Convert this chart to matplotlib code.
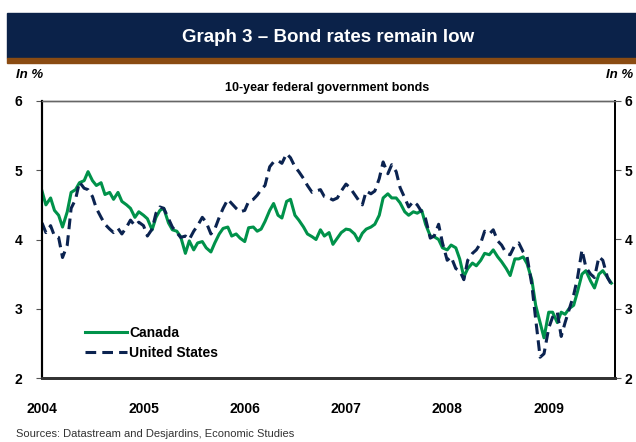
import pandas as pd
import matplotlib
matplotlib.use("Agg")
import matplotlib.pyplot as plt
from matplotlib.patches import Rectangle

plt.rcParams['font.family'] = ['Liberation Sans', 'DejaVu Sans']

# semi-monthly readings, Jan 2004 -> Aug 2009 (in %)
canada = [4.70, 4.50, 4.60, 4.42, 4.35, 4.18, 4.40, 4.68, 4.72, 4.82, 4.85, 4.98,
          4.85, 4.78, 4.82, 4.65, 4.68, 4.58, 4.68, 4.55, 4.50, 4.45, 4.32, 4.40,
          4.35, 4.30, 4.14, 4.32, 4.42, 4.45, 4.24, 4.14, 4.12, 4.04, 3.80, 3.98,
          3.85, 3.95, 3.97, 3.88, 3.82, 3.95, 4.08, 4.16, 4.18, 4.05, 4.08, 4.02,
          3.97, 4.17, 4.18, 4.12, 4.15, 4.26, 4.42, 4.52, 4.35, 4.31, 4.55, 4.58,
          4.35, 4.28, 4.18, 4.08, 4.04, 4.00, 4.14, 4.05, 4.10, 3.93, 4.02, 4.10,
          4.15, 4.14, 4.08, 3.98, 4.09, 4.15, 4.18, 4.22, 4.35, 4.60, 4.66, 4.60,
          4.60, 4.53, 4.40, 4.35, 4.40, 4.38, 4.42, 4.22, 4.05, 4.04, 4.00, 3.88,
          3.85, 3.92, 3.88, 3.72, 3.46, 3.58, 3.66, 3.62, 3.70, 3.80, 3.78, 3.85,
          3.75, 3.68, 3.58, 3.48, 3.72, 3.72, 3.75, 3.65, 3.42, 3.05, 2.80, 2.58,
          2.95, 2.95, 2.80, 2.95, 2.92, 3.00, 3.05, 3.25, 3.50, 3.55, 3.40, 3.30,
          3.50, 3.55, 3.45, 3.37]
united_states = [4.24, 4.10, 4.20, 4.05, 4.03, 3.74, 3.92, 4.45, 4.58, 4.83, 4.74, 4.72,
                 4.62, 4.45, 4.32, 4.22, 4.15, 4.10, 4.16, 4.08, 4.18, 4.28, 4.20, 4.25,
                 4.20, 4.05, 4.15, 4.38, 4.47, 4.45, 4.30, 4.18, 4.10, 4.03, 4.05, 4.00,
                 4.12, 4.20, 4.32, 4.25, 4.08, 4.15, 4.32, 4.45, 4.58, 4.52, 4.45, 4.40,
                 4.42, 4.55, 4.58, 4.64, 4.72, 4.78, 5.05, 5.12, 5.14, 5.10, 5.24, 5.18,
                 5.05, 4.98, 4.88, 4.78, 4.68, 4.70, 4.72, 4.62, 4.60, 4.57, 4.60, 4.70,
                 4.80, 4.75, 4.65, 4.57, 4.50, 4.70, 4.66, 4.70, 4.88, 5.12, 4.95, 5.08,
                 4.98, 4.75, 4.60, 4.47, 4.55, 4.50, 4.40, 4.30, 4.02, 4.05, 4.22, 3.95,
                 3.70, 3.75, 3.58, 3.55, 3.42, 3.70, 3.80, 3.85, 3.95, 4.12, 4.08, 4.14,
                 3.98, 3.92, 3.80, 3.78, 3.92, 3.95, 3.82, 3.75, 3.35, 2.85, 2.30, 2.35,
                 2.72, 2.88, 2.95, 2.60, 2.80, 2.98, 3.20, 3.45, 3.85, 3.60, 3.50, 3.45,
                 3.75, 3.70, 3.45, 3.35]
dates = pd.date_range('2004-01-01', periods=len(canada), freq='SMS')
years = ['2004', '2005', '2006', '2007', '2008', '2009']
yticks = [2, 3, 4, 5, 6]

W, H = 636, 442
def fx(px):
    return px / W
def fy(py):
    return 1 - py / H

fig = plt.figure(figsize=(6.36, 4.42), dpi=100)

# title banner
fig.patches.append(Rectangle((fx(7), fy(58)), 1 - fx(7), 45 / H, transform=fig.transFigure,
                             color='#0b2249', zorder=0))
fig.patches.append(Rectangle((fx(7), fy(63)), 1 - fx(7), 5 / H, transform=fig.transFigure,
                             color='#8a4b12', zorder=0))
fig.text(fx(328), fy(37), 'Graph 3 – Bond rates remain low', color='white',
         fontsize=13.5, fontweight='bold', ha='center', va='center')
fig.text(fx(327), fy(88), '10-year federal government bonds', fontsize=9,
         fontweight='bold', ha='center', va='center')
fig.text(fx(16), fy(75), 'In %', fontsize=9.5, fontweight='bold', style='italic',
         ha='left', va='center')
fig.text(fx(633), fy(75), 'In %', fontsize=9.5, fontweight='bold', style='italic',
         ha='right', va='center')
fig.text(fx(16), fy(434), 'Sources: Datastream and Desjardins, Economic Studies',
         fontsize=8, color='#333333', ha='left', va='center')

ax = fig.add_axes([fx(42), fy(378), (615 - 42) / W, (378 - 101) / H])
ax.plot(dates, canada, color='#00924a', lw=2.2, label='Canada')
ax.plot(dates, united_states, color='#0b2350', lw=2.2, dashes=(3.5, 2),
        label='United States')
ax.set_ylim(2, 6)
ax.set_xlim(pd.Timestamp('2004-01-01'), pd.Timestamp('2009-08-28'))

ax.set_xticks([pd.Timestamp(y + '-01-01') for y in years])
ax.set_xticklabels(years, fontsize=10, fontweight='bold')
ax.tick_params(axis='x', length=0, pad=17)
ax.set_yticks(yticks)
ax.set_yticklabels([str(v) for v in yticks], fontsize=10, fontweight='bold')
ax.tick_params(axis='y', direction='out', length=4, color='#555555', pad=10)

ax2 = ax.twinx()
ax2.set_ylim(2, 6)
ax2.set_yticks(yticks)
ax2.set_yticklabels([str(v) for v in yticks], fontsize=10, fontweight='bold')
ax2.tick_params(axis='y', direction='out', length=4, color='#555555', pad=3)

for a in (ax, ax2):
    a.spines['top'].set_color('#666666')
    a.spines['top'].set_linewidth(1)
    a.spines['left'].set_color('black')
    a.spines['left'].set_linewidth(1.5)
    a.spines['right'].set_color('black')
    a.spines['right'].set_linewidth(1.3)
    a.spines['bottom'].set_color('#333333')
    a.spines['bottom'].set_linewidth(2)

leg = ax.legend(loc='upper left', bbox_to_anchor=((85 - 42) / 573, (378 - 326) / 277),
                frameon=False, borderpad=0, borderaxespad=0, handlelength=3.0,
                handletextpad=0.2, labelspacing=0.45, prop={'size': 10, 'weight': 'bold'})

fig.savefig('out.png', dpi=100)
